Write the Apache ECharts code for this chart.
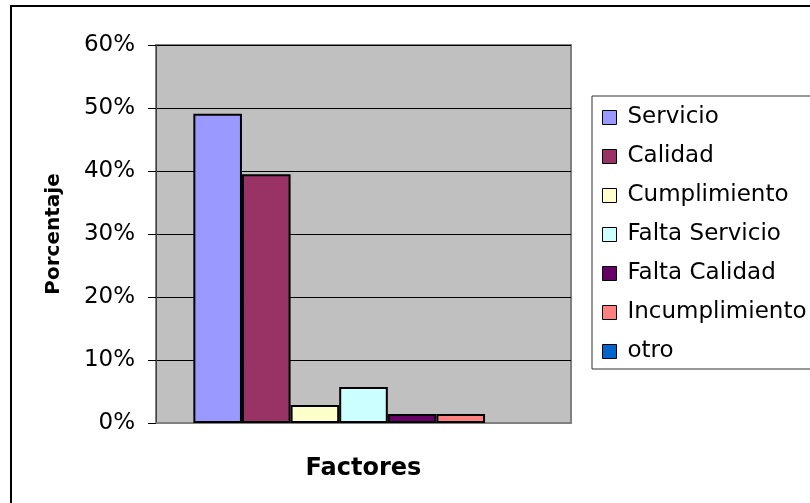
<!DOCTYPE html>
<html>
<head>
<meta charset="utf-8">
<script src="https://cdn.jsdelivr.net/npm/echarts@6/dist/echarts.min.js"></script>
<style>
  html, body { margin: 0; padding: 0; background: #fff; }
  #chart { width: 810px; height: 503px; }
</style>
</head>
<body>
<div id="chart"></div>
<script>
// factores y su porcentaje
const factores = ["Servicio", "Calidad", "Cumplimiento", "Falta Servicio", "Falta Calidad", "Incumplimiento", "otro"];
const porcentajes = [0.491, 0.395, 0.0286, 0.057, 0.0143, 0.0143, 0];
const colores = ["#9999FF", "#993366", "#FFFFCC", "#CCFFFF", "#660066", "#FF8080", "#0066CC"];

const font = "DejaVu Sans";

const myChart = echarts.init(document.getElementById("chart"));
myChart.setOption({
  backgroundColor: "#fff",
  animation: false,
  graphic: [
    {
      type: "rect",
      shape: { x: 11, y: 6, width: 900, height: 600 },
      style: { fill: null, stroke: "#000", lineWidth: 2 },
      silent: true,
    },
  ],
  grid: {
    left: 156,
    top: 45,
    width: 415,
    height: 378,
    show: true,
    backgroundColor: "#C0C0C0",
    borderColor: "#808080",
    borderWidth: 2,
  },
  legend: {
    orient: "vertical",
    left: 592,
    top: 96,
    padding: [10, 12, 6, 10],
    itemGap: 16,
    itemWidth: 14,
    itemHeight: 14,
    icon: "rect",
    borderColor: "#303030",
    borderWidth: 1,
    backgroundColor: "#fff",
    itemStyle: { borderColor: "#000", borderWidth: 1 },
    textStyle: {
      fontFamily: font,
      fontSize: 23,
      color: "#000",
      padding: [0, 0, 0, 6],
    },
    data: factores,
  },
  xAxis: {
    type: "category",
    data: [""],
    name: "Factores",
    nameLocation: "middle",
    nameGap: 34,
    nameTextStyle: { fontFamily: font, fontSize: 24, fontWeight: "bold", color: "#000" },
    axisLine: { lineStyle: { color: "#808080", width: 2 } },
    axisTick: { show: false },
    axisLabel: { show: false },
  },
  yAxis: {
    type: "value",
    min: 0,
    max: 0.6,
    interval: 0.1,
    name: "Porcentaje",
    nameLocation: "middle",
    nameGap: 92,
    nameRotate: 90,
    nameTextStyle: { fontFamily: font, fontSize: 20, fontWeight: "bold", color: "#000" },
    axisLine: { show: true, lineStyle: { color: "#404040", width: 1 } },
    axisTick: { show: true, length: 8, lineStyle: { color: "#000" } },
    axisLabel: {
      margin: 21,
      fontFamily: font,
      fontSize: 23,
      color: "#000",
      formatter: function (v) {
        return Math.round(v * 100) + "%";
      },
    },
    splitLine: { lineStyle: { color: "#000", width: 1 } },
  },
  series: factores.map(function (name, i) {
    return {
      name: name,
      type: "bar",
      barGap: 0,
      barCategoryGap: "18%",
      itemStyle: {
        color: colores[i],
        borderColor: "#000",
        borderWidth: porcentajes[i] > 0 ? 2 : 0,
      },
      data: [porcentajes[i]],
    };
  }),
});
</script>
</body>
</html>
